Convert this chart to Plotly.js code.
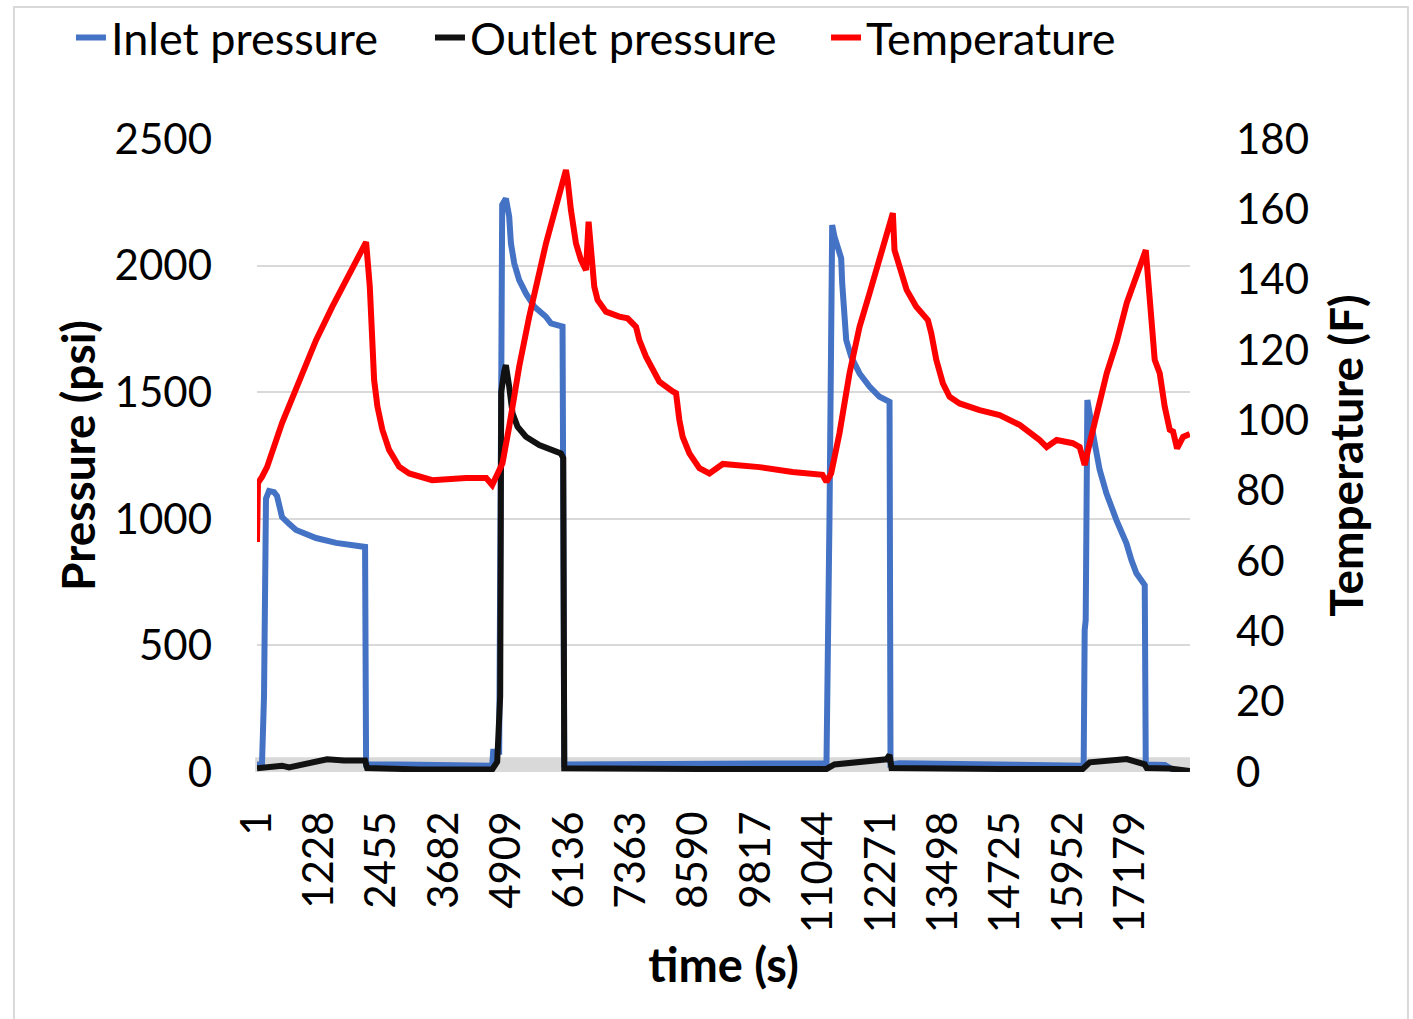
<!DOCTYPE html>
<html>
<head>
<meta charset="utf-8">
<script src="https://cdn.plot.ly/plotly-3.0.1.min.js"></script>
<style>html,body{margin:0;padding:0;background:#fff;}#chart{width:1413px;height:1019px;}</style>
</head>
<body>
<div id="chart"></div>
<script>
// time index (s) and values
const inletTime = [1, 99, 139, 178, 237, 336, 395, 493, 631, 769, 1162, 1556, 2126, 2146, 2796, 3780, 4626, 4645, 4763, 4803, 4822, 4895, 4960, 4994, 5059, 5157, 5289, 5452, 5683, 5781, 6009, 6043, 6732, 8700, 11199, 11258, 11298, 11311, 11356, 11421, 11488, 11508, 11533, 11587, 11685, 11849, 12045, 12242, 12439, 12458, 12635, 14603, 16256, 16276, 16296, 16329, 16375, 16473, 16571, 16703, 16900, 17097, 17195, 17293, 17457, 17477, 17851, 18048, 18343];
const inletPressure = [30, 30, 300, 1080, 1110, 1105, 1090, 1007, 980, 956, 924, 905, 889, 30, 30, 25, 25, 80, 80, 1500, 2240, 2265, 2193, 2088, 2009, 1943, 1890, 1838, 1798, 1772, 1759, 30, 30, 30, 35, 1000, 2150, 2160, 2114, 2061, 2029, 1930, 1824, 1706, 1640, 1574, 1522, 1482, 1462, 30, 35, 30, 25, 560, 600, 1469, 1403, 1298, 1193, 1101, 995, 903, 837, 785, 738, 30, 28, 5, 3];

const outletTime = [1, 493, 631, 1024, 1379, 1713, 2126, 2166, 3189, 4626, 4724, 4783, 4803, 4860, 4895, 4960, 5026, 5124, 5289, 5551, 5813, 5977, 6023, 6043, 8700, 11199, 11356, 11848, 12380, 12439, 12478, 14603, 16237, 16375, 16768, 17103, 17457, 17497, 17949, 18343];
const outletPressure = [15, 25, 18, 35, 50, 45, 45, 16, 10, 10, 40, 300, 1500, 1580, 1607, 1522, 1417, 1364, 1324, 1291, 1272, 1258, 1240, 15, 12, 12, 30, 40, 50, 67, 16, 12, 12, 38, 42, 51, 30, 16, 14, 4];

const tempTime = [1, 20, 99, 198, 493, 827, 1162, 1477, 1811, 2146, 2219, 2258, 2304, 2369, 2467, 2599, 2796, 2993, 3445, 4114, 4508, 4626, 4828, 4960, 5157, 5354, 5683, 6076, 6108, 6174, 6273, 6371, 6470, 6521, 6588, 6633, 6698, 6863, 7125, 7288, 7454, 7519, 7650, 7814, 7913, 8175, 8241, 8306, 8371, 8503, 8700, 8897, 9028, 9160, 9880, 10530, 11120, 11199, 11291, 11454, 11652, 11849, 12045, 12242, 12504, 12537, 12635, 12760, 12775, 12964, 13193, 13260, 13358, 13488, 13619, 13816, 14210, 14603, 14997, 15391, 15529, 15725, 16040, 16178, 16276, 16375, 16709, 16900, 17103, 17477, 17522, 17588, 17653, 17752, 17850, 17949, 18014, 18093, 18211, 18343];
const temperature = [65.4, 82.2, 83.9, 86.7, 99.2, 111.5, 122.8, 132.2, 141.9, 150.7, 138.0, 123.8, 111.5, 103.9, 97.3, 91.6, 86.8, 84.9, 83.0, 83.6, 83.6, 81.6, 87.8, 98.2, 115.3, 129.5, 150.3, 171.2, 168.4, 159.8, 150.3, 145.6, 142.7, 156.5, 147.5, 138.0, 134.2, 130.9, 129.5, 129.0, 126.6, 122.8, 118.1, 113.8, 111.0, 108.2, 107.7, 100.1, 95.3, 90.6, 86.4, 84.9, 86.4, 87.6, 86.7, 85.3, 84.5, 82.5, 84.9, 96.3, 113.4, 126.6, 136.1, 145.6, 158.9, 148.4, 143.7, 139.0, 137.1, 132.3, 128.5, 124.7, 117.2, 110.5, 106.7, 104.8, 102.9, 101.5, 98.7, 94.4, 92.4, 94.4, 93.5, 92.4, 87.3, 93.5, 113.4, 122.0, 133.4, 148.4, 139.9, 125.7, 117.2, 113.4, 103.9, 97.3, 96.8, 92.0, 95.3, 96.1];

const xTickLabels = ["1", "1228", "2455", "3682", "4909", "6136", "7363", "8590", "9817", "11044", "12271", "13498", "14725", "15952", "17179"];
const xTickVals = xTickLabels.map(Number);

const FONT = "Lato, 'Liberation Sans', sans-serif";
const LEG_FONT = {family: FONT, size: 45, color: "#000"};

const traces = [
  {x: inletTime, y: inletPressure, name: "Inlet pressure", type: "scatter", mode: "lines",
   line: {color: "#4472C4", width: 6}, yaxis: "y", legend: "legend"},
  {x: outletTime, y: outletPressure, name: "Outlet pressure", type: "scatter", mode: "lines",
   line: {color: "#111111", width: 6}, yaxis: "y", legend: "legend2"},
  {x: tempTime, y: temperature, name: "Temperature", type: "scatter", mode: "lines",
   line: {color: "#FF0000", width: 6}, yaxis: "y2", legend: "legend3"}
];

function leg(xp) {
  return {orientation: "h", x: xp, xanchor: "left", y: 1.16, yanchor: "middle",
          font: LEG_FONT, bgcolor: "rgba(0,0,0,0)"};
}

const layout = {
  width: 1413, height: 1019,
  margin: {l: 257, r: 223, t: 139, b: 247, autoexpand: false},
  paper_bgcolor: "#ffffff", plot_bgcolor: "rgba(0,0,0,0)",
  font: {family: FONT, size: 42, color: "#000"},
  showlegend: true,
  legend: leg(-0.1994),
  legend2: leg(0.1854),
  legend3: leg(0.6099),
  xaxis: {
    type: "linear", range: [1, 18347], tickmode: "array", tickvals: xTickVals, ticktext: xTickLabels,
    tickangle: -90, showgrid: false, zeroline: false, showline: false, ticks: "",
    ticklabelstandoff: 30,
    tickfont: {family: FONT, size: 42, color: "#000"},
    title: {text: "<b>time (s)</b>", font: {family: FONT, size: 47, color: "#000"}, standoff: 16},
    automargin: false, fixedrange: true
  },
  yaxis: {
    range: [0, 2500], dtick: 500, tick0: 0, showgrid: true, gridcolor: "#d9d9d9", gridwidth: 2,
    zeroline: false, showline: false, ticks: "", ticklabelstandoff: 44,
    tickfont: {family: FONT, size: 42, color: "#000"},
    title: {text: "<b>Pressure (psi)</b>", font: {family: FONT, size: 46, color: "#000"}, standoff: 4},
    automargin: false, fixedrange: true
  },
  yaxis2: {
    overlaying: "y", side: "right", range: [0, 180], dtick: 20, tick0: 0, showgrid: false,
    zeroline: false, showline: false, ticks: "", ticklabelstandoff: 45,
    tickfont: {family: FONT, size: 42, color: "#000"},
    title: {text: "<b>Temperature (F)</b>", font: {family: FONT, size: 46, color: "#000"}, standoff: 22},
    automargin: false, fixedrange: true
  },
  shapes: [
    {type: "rect", xref: "paper", yref: "y", x0: -0.002, x1: 1.0, y0: -5, y1: 58,
     fillcolor: "#d9d9d9", line: {width: 0}, layer: "below"},
    {type: "rect", xref: "paper", yref: "paper", x0: -0.2605, x1: 1.2336, y0: -0.42, y1: 1.2085,
     fillcolor: "rgba(0,0,0,0)", line: {color: "#d9d9d9", width: 2}, layer: "below"}
  ]
};

Plotly.newPlot("chart", traces, layout, {staticPlot: true, displayModeBar: false});
</script>
</body>
</html>
